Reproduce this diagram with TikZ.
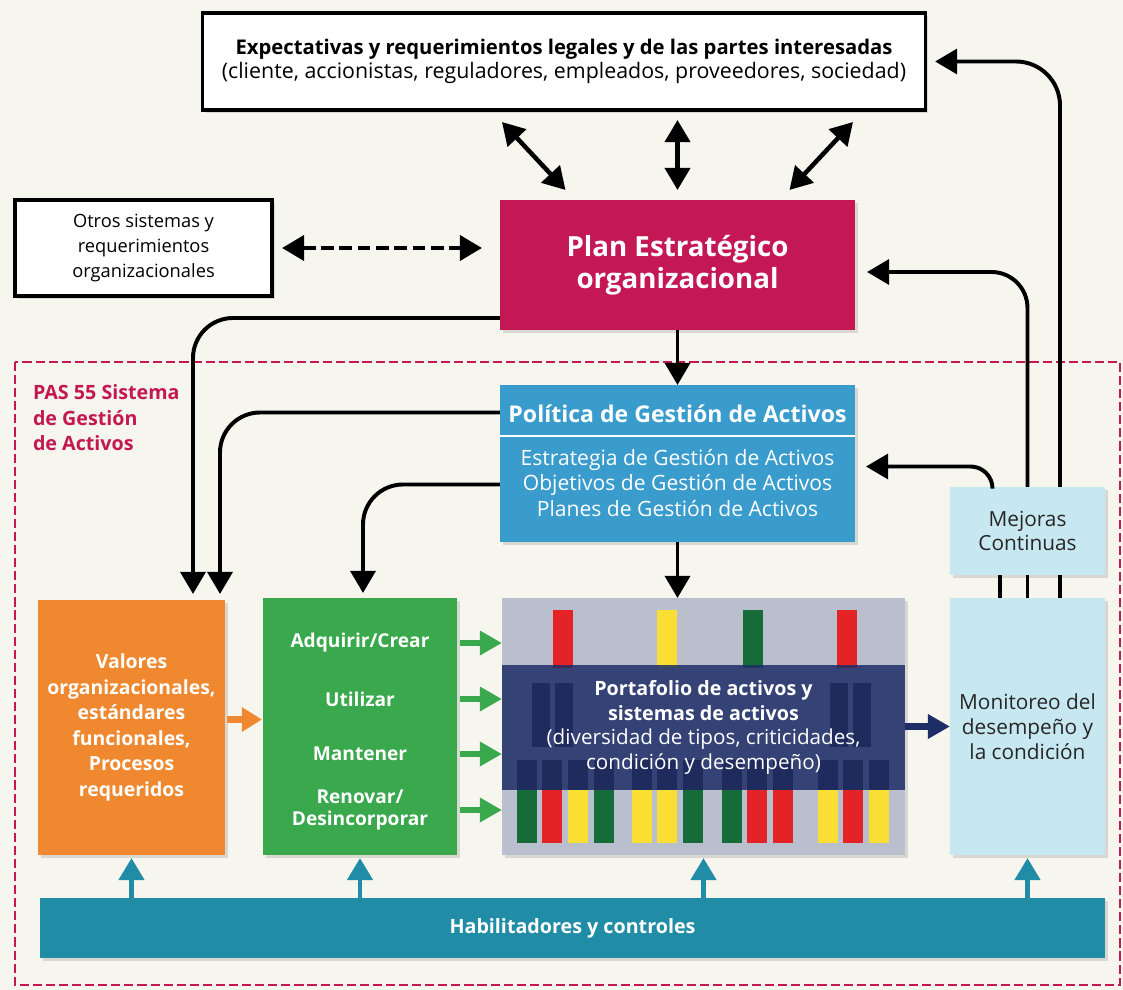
\documentclass[tikz,border=0pt]{standalone}
\usepackage{fontspec}
\setmainfont{Open Sans}
\usetikzlibrary{arrows.meta,calc,shadows}
\definecolor{fondo}{RGB}{246,245,238}
\definecolor{carmin}{RGB}{196,24,84}
\definecolor{azulpol}{RGB}{58,155,205}
\definecolor{naranja}{RGB}{240,136,48}
\definecolor{verde}{RGB}{58,168,76}
\definecolor{gris}{RGB}{186,191,206}
\definecolor{marino}{RGB}{29,45,102}
\definecolor{celeste}{RGB}{200,232,241}
\definecolor{petroleo}{RGB}{33,140,166}
\definecolor{rojo}{RGB}{228,35,38}
\definecolor{amarillo}{RGB}{250,222,52}
\definecolor{verdeosc}{RGB}{22,108,56}

\begin{document}
\begin{tikzpicture}[x=0.025cm, y=-0.025cm,
  every node/.style={inner sep=0pt, outer sep=0pt, align=center},
  sombra/.style={drop shadow={opacity=.25, shadow xshift=2pt, shadow yshift=-2pt}},
  caja/.style={draw=black, line width=2.2pt, fill=white, sombra},
  flecha/.style={line width=2.8pt, -{Triangle[length=0.55cm,width=0.62cm]}},
  doble/.style={line width=3.2pt, {Triangle[length=0.55cm,width=0.62cm]}-{Triangle[length=0.55cm,width=0.62cm]}},
  verdeflecha/.style={verde, line width=4.5pt, -{Triangle[length=0.55cm,width=0.58cm]}},
  petroflecha/.style={petroleo, line width=3.5pt, -{Triangle[length=0.55cm,width=0.62cm]}},
  blanco/.style={text=white, font=\fontsize{13.6}{15.6}\selectfont\bfseries}]
\fill[fondo] (0,0) rectangle (1123,990);
\draw[carmin, line width=1.5pt, dash pattern=on 6.5pt off 2.8pt] (15,362) rectangle (1120,985);

\node[caja, minimum width=18.05cm, minimum height=2.425cm, font=\fontsize{15.2}{16.8}\selectfont] (expect) at (564,61.5) {{\fontsize{14.4}{16.8}\selectfont\bfseries Expectativas y requerimientos legales y de las partes interesadas}\\(cliente, accionistas, reguladores, empleados, proveedores, sociedad)};
\node[caja, minimum width=6.425cm, minimum height=2.4cm, font=\fontsize{13}{17.7}\selectfont] (otros) at (143.5,248) {Otros sistemas y\\requerimientos\\organizacionales};
\node[fill=carmin, sombra, text=white, minimum width=8.875cm, minimum height=3.25cm, font=\fontsize{19.7}{22.7}\selectfont\bfseries] (plan) at (677.5,265) {Plan Estratégico\\organizacional};

\node[anchor=north west, align=left, text=carmin, font=\fontsize{14}{18}\selectfont\bfseries] (pas) at (33,385) {PAS 55 Sistema\\de Gestión\\de Activos};

\node[fill=azulpol, sombra, minimum width=8.875cm, minimum height=3.925cm] (politica) at (677.5,463.5) {};
\node[text=white, font=\fontsize{16.4}{18}\selectfont\bfseries] (poltit) at (677.5,414) {Política de Gestión de Activos};
\draw[white, line width=0.8pt] (politica.west |- 0,436) -- (politica.east |- 0,436);
\node[text=white, font=\fontsize{15}{18}\selectfont] (polplan) at (677.5,483) {Estrategia de Gestión de Activos\\Objetivos de Gestión de Activos\\Planes de Gestión de Activos};

\node[fill=naranja, sombra, text=white, minimum width=4.675cm, minimum height=6.375cm, font=\fontsize{13.8}{18.1}\selectfont\bfseries] (valores) at (131.5,727.5) {Valores\\organizacionales,\\estándares\\funcionales,\\Procesos\\requeridos};

\node[fill=verde, sombra, minimum width=4.85cm, minimum height=6.425cm] (ciclo) at (360,726.5) {};
\node[blanco] (adquirir) at (360,643) {Adquirir/Crear};
\node[blanco] (utilizar) at (360,699) {Utilizar};
\node[blanco] (mantener) at (360,754) {Mantener};
\node[blanco] (renovar) at (360,810) {Renovar/\\Desincorporar};

\node[fill=gris, sombra, minimum width=10.075cm, minimum height=6.425cm] (portafolio) at (703.5,726.5) {};
\foreach \x/\c in {553/rojo,657/amarillo,743/verdeosc,837/rojo}
  \fill[\c] (\x,610) rectangle +(20,58);
\foreach \x in {532,555,830,853}
  \fill[black!85] (\x,683) rectangle +(18,64);
\foreach \x/\c in {517/verdeosc,542/rojo,568/amarillo,594/verdeosc,632/amarillo,657/amarillo,683/verdeosc,722/verdeosc,747/rojo,773/rojo,818/amarillo,843/rojo,869/amarillo}
  {\fill[black!85] (\x,760) rectangle +(20,30);
   \fill[\c] (\x,790) rectangle +(20,53);}
\node[fill=marino, fill opacity=.85, text opacity=1, text=white, minimum width=10.075cm, minimum height=3.125cm, font=\fontsize{14.7}{17.5}\selectfont] (banda) at (703.5,727.5) {{\fontsize{14}{17.5}\selectfont\bfseries Portafolio de activos y}\\{\fontsize{14}{17.5}\selectfont\bfseries sistemas de activos}\\(diversidad de tipos, criticidades,\\condición y desempeño)};

\node[fill=celeste, sombra, text=black!85, minimum width=3.875cm, minimum height=6.425cm, font=\fontsize{14.8}{17.7}\selectfont] (monitoreo) at (1027.5,726.5) {Monitoreo del\\desempeño y\\la condición};
\node[fill=celeste, sombra, text=black!85, minimum width=3.875cm, minimum height=2.2cm, font=\fontsize{14.8}{17.7}\selectfont] (mejoras) at (1027.5,531) {Mejoras\\Continuas};

\node[fill=petroleo, sombra, text=white, minimum width=26.625cm, minimum height=1.5cm, font=\fontsize{14}{15}\selectfont\bfseries] (habil) at (572.5,928) {Habilitadores y controles};

\draw[doble] ($(expect.south)+(-62,12)$) -- ($(plan.north)+(-112,-10)$);
\draw[doble] ($(plan.north |- expect.south)+(0,10)$) -- ($(plan.north)+(0,-10)$);
\draw[doble] ($(expect.south)+(289,12)$) -- ($(plan.north)+(112,-10)$);
\draw[doble, dash pattern=on 9pt off 4pt] ($(otros.east)+(10,0)$) -- ($(plan.west |- otros.east)+(-18,0)$);

\draw[flecha] (plan.south) -- (politica.north);
\draw[flecha] (politica.south) -- (politica.south |- portafolio.north);

\draw[flecha, rounded corners=1cm] ($(plan.west)+(0,53)$) -| ($(valores.north)+(61.5,-6)$);
\draw[flecha, rounded corners=1cm] ($(politica.west)+(0,-51)$) -| ($(valores.north)+(88.5,-6)$);
\draw[flecha, rounded corners=1cm] ($(politica.west)+(0,21)$) -| ($(ciclo.north)+(3,-5)$);

\draw[flecha, rounded corners=0.55cm] ($(mejoras.north)+(-35,0)$) |- ($(politica.east)+(11,3)$);
\draw[flecha, rounded corners=0.9cm] (mejoras.north) |- ($(plan.east)+(12,7)$);
\draw[flecha, rounded corners=1.1cm] ($(mejoras.north)+(32.5,0)$) |- ($(expect.east)+(10,0)$);
\foreach \dx in {-27.5,0,32.5}
  \draw[line width=2.8pt] ($(mejoras.south)+(\dx,0)$) -- ($(monitoreo.north)+(\dx,0)$);

\draw[naranja, line width=5pt, -{Triangle[length=0.5cm,width=0.58cm]}] ($(valores.east)+(2,-8)$) -- ($(ciclo.west |- valores.east)+(-1,-8)$);
\foreach \n in {adquirir,utilizar,mantener,renovar}
  \draw[verdeflecha, shorten <=2pt] (\n -| ciclo.east) -- (\n -| portafolio.west);
\draw[marino, line width=4.5pt, -{Triangle[length=0.55cm,width=0.58cm]}] (portafolio.east) -- (monitoreo.west);
\foreach \n in {valores,ciclo,portafolio,monitoreo}
  \draw[petroflecha] (\n.south |- habil.north) -- ($(\n.south)+(0,3)$);
\end{tikzpicture}
\end{document}
